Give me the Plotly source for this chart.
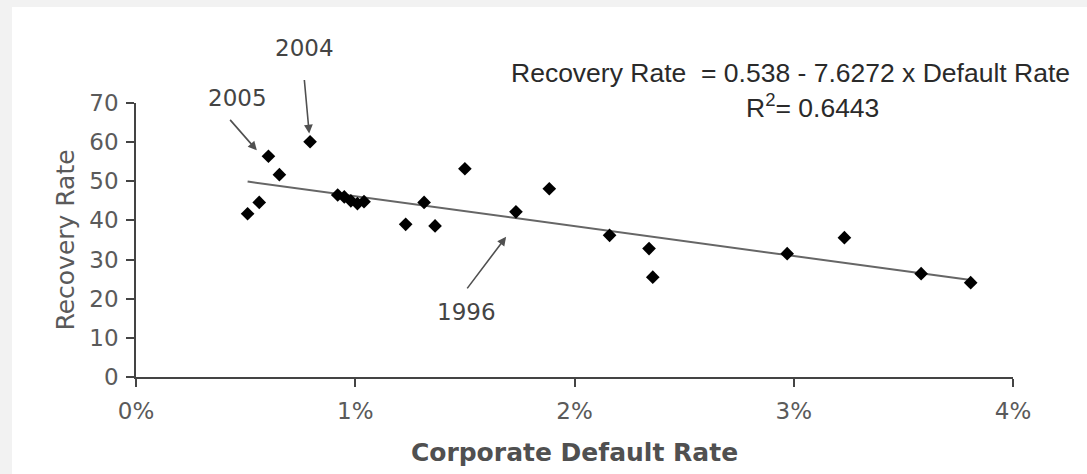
import plotly.graph_objects as go

# Corporate default rate (%) and recovery rate for each year
default_rate = [0.509, 0.562, 0.604, 0.654, 0.794, 0.92, 0.95, 0.98, 1.01, 1.04,
                1.23, 1.314, 1.364, 1.50, 1.733, 1.885, 2.16, 2.34, 2.357,
                2.97, 3.231, 3.581, 3.807]
recovery_rate = [41.7, 44.6, 56.4, 51.7, 60.1, 46.5, 46.0, 45.0, 44.3, 44.8,
                 39.0, 44.6, 38.6, 53.2, 42.2, 48.1, 36.2, 32.8, 25.5,
                 31.5, 35.6, 26.4, 24.1]

# Fitted line: Recovery Rate = 0.538 - 7.6272 x Default Rate
intercept = 0.538
slope = -7.6272

x_ticks = [0, 1, 2, 3, 4]
y_ticks = [0, 10, 20, 30, 40, 50, 60, 70]
X_MAX, Y_MAX = 4, 70

W, H = 1087, 474
ML, MR, MT, MB = 136, 74, 103, 97
pw, ph = W - ML - MR, H - MT - MB

fit_x = [min(default_rate), max(default_rate)]
fit_y = [100 * (intercept + slope * x / 100) for x in fit_x]

fig = go.Figure()
fig.add_trace(go.Scatter(
    x=fit_x, y=fit_y, mode="lines",
    line=dict(color="#666666", width=2),
    hoverinfo="skip", showlegend=False,
))
fig.add_trace(go.Scatter(
    x=default_rate, y=recovery_rate, mode="markers",
    marker=dict(symbol="diamond", size=10.5, color="#000000"),
    showlegend=False,
))

# white chart panel over the light grey frame
fig.add_shape(
    type="rect", xref="paper", yref="paper", layer="below",
    x0=(12 - ML) / pw, x1=(W - ML) / pw,
    y0=-(MB + 5) / ph, y1=(H - MB - 7) / ph,
    fillcolor="white", line=dict(width=0),
)

sans = "DejaVu Sans, Verdana, sans-serif"
tick_font = dict(family=sans, size=23, color="#5a5a5a")
year_font = dict(family=sans, size=23, color="#444444")
eq_font = dict(family="Liberation Sans Narrow, Arial Narrow, Liberation Sans, Arial, sans-serif",
               size=26.5, color="#2a2a2a")

# labelled years: point index, arrow tip offset, tail offset (px), text position (data units)
labels = [
    ("2004", 4, -0.004, 2.1, -5, -55, 0.7685, 84.1),
    ("2005", 2, -0.053, 1.5, -28, -32, 0.4643, 71.2),
    ("1996", 14, -0.045, -6.4, -40, 53, 1.508, 16.6),
]
for text, i, dx, dy, ax, ay, tx, ty in labels:
    fig.add_annotation(
        x=default_rate[i] + dx, y=recovery_rate[i] + dy, xref="x", yref="y",
        ax=ax, ay=ay, text="", showarrow=True,
        arrowhead=2, arrowsize=1.1, arrowwidth=1.6, arrowcolor="#505050",
    )
    fig.add_annotation(
        x=tx / X_MAX, y=ty / Y_MAX, xref="paper", yref="paper", text=text,
        showarrow=False, font=year_font, xanchor="center", yanchor="middle",
    )

fig.add_annotation(
    x=(790 - ML) / pw, y=(H - MB - 73) / ph, xref="paper", yref="paper",
    text="Recovery Rate  = 0.538 - 7.6272 x Default Rate", showarrow=False,
    font=eq_font, xanchor="center", yanchor="middle",
)
fig.add_annotation(
    x=(812 - ML) / pw, y=(H - MB - 106) / ph, xref="paper", yref="paper",
    text="R<sup>2</sup>= 0.6443", showarrow=False,
    font=eq_font, xanchor="center", yanchor="middle",
)

fig.update_layout(
    width=W, height=H,
    margin=dict(l=ML, r=MR, t=MT, b=MB, pad=0),
    paper_bgcolor="#f2f2f2",
    plot_bgcolor="white",
    xaxis=dict(
        range=[0, X_MAX], tickvals=x_ticks, ticktext=[f"{v}%" for v in x_ticks],
        showgrid=False, zeroline=False, showline=True, linecolor="#444444", linewidth=1.5,
        ticks="outside", ticklen=8, tickwidth=1.5, tickcolor="#444444",
        tickfont=tick_font, ticklabelstandoff=5,
        title=dict(text="<b>Corporate Default Rate</b>", standoff=20,
                   font=dict(family=sans, size=25, color="#505050")),
    ),
    yaxis=dict(
        range=[0, Y_MAX], tickvals=y_ticks,
        showgrid=False, zeroline=False, showline=True, linecolor="#444444", linewidth=1.5,
        ticks="outside", ticklen=8, tickwidth=1.5, tickcolor="#444444",
        tickfont=tick_font, ticklabelstandoff=3,
        title=dict(text="Recovery Rate", standoff=8,
                   font=dict(family=sans, size=25, color="#5a5a5a")),
    ),
)

fig.write_html("out.html")
